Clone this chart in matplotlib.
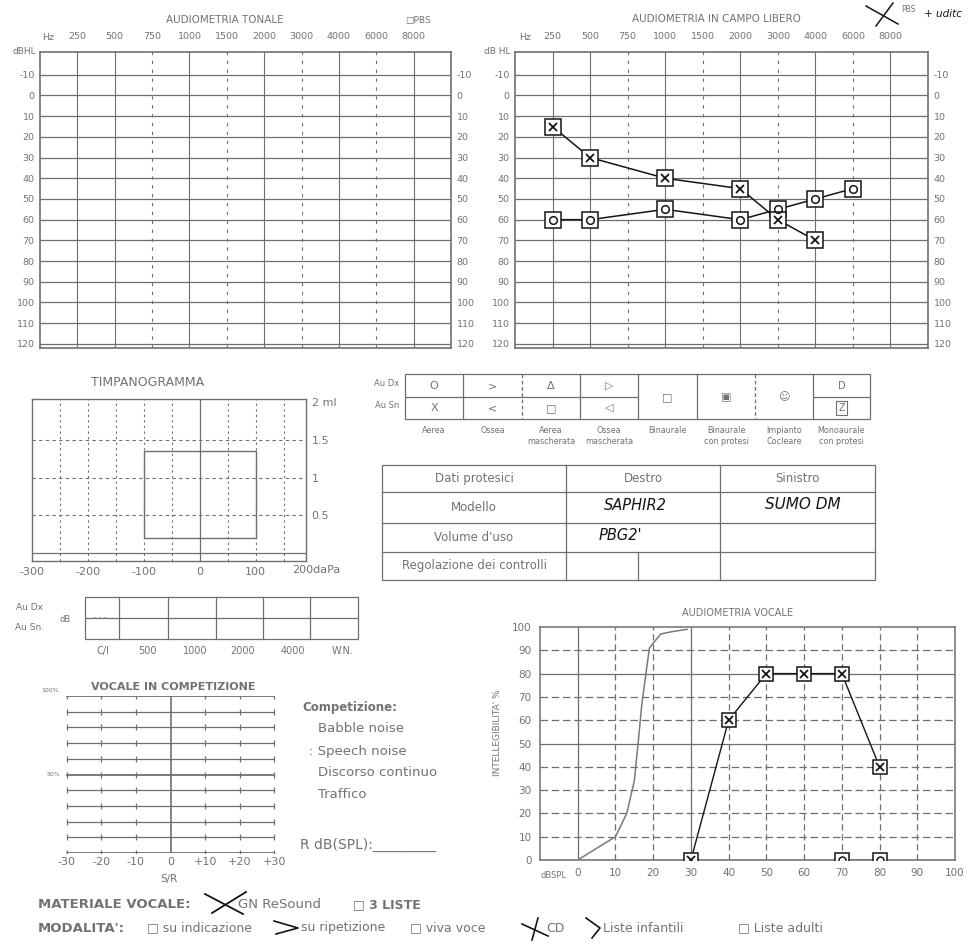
import matplotlib.pyplot as plt
from matplotlib.patches import Rectangle

W, H = 973, 944
FORM = "#6f6f6f"
TXT = "#727272"
INK = "#151515"

# --- data ---------------------------------------------------------------
freq_labels = ["250", "500", "750", "1000", "1500", "2000", "3000", "4000", "6000", "8000"]
freq_dashed = ["750", "1500", "3000", "6000"]
db_levels = [-10, 0, 10, 20, 30, 40, 50, 60, 70, 80, 90, 100, 110, 120]

# audiometria in campo libero
cl_x_freq = ["250", "500", "1000", "2000", "3000", "4000"]
cl_x_db = [15, 30, 40, 45, 60, 70]
cl_o_freq = ["250", "500", "1000", "2000", "3000", "4000", "6000"]
cl_o_db = [60, 60, 55, 60, 55, 50, 45]

# timpanogramma
tymp_pressure = [-300, -200, -100, 0, 100]
tymp_grid = [-250, -200, -150, -100, -50, 50, 100, 150]
tymp_ml = [0.5, 1, 1.5, 2]
tymp_ml_labels = ["0.5", "1", "1.5", "2 ml"]
tymp_norm_pressure = [-100, 100]
tymp_norm_ml = [0.2, 1.35]

# simboli
sym_top = ["O", ">", "\u0394", "\u25b7"]
sym_bottom = ["X", "<", "\u25a1", "\u25c1"]
sym_span = ["\u25a1", "\u25a3", "\u263a"]
sym_names = ["Aerea", "Ossea", "Aerea\nmascherata", "Ossea\nmascherata", "Binaurale",
             "Binaurale\ncon protesi", "Impianto\nCocleare", "Monoaurale\ncon protesi"]

# dati protesici
prot_rows = ["Dati protesici", "Modello", "Volume d'uso", "Regolazione dei controlli"]
prot_head = ["Destro", "Sinistro"]
prot_dx = ["SAPHIR2", "PBG2'"]
prot_sn = ["SUMO DM"]

# riflessi
reflex_labels = ["C/I", "500", "1000", "2000", "4000", "W.N."]

# vocale in competizione
sr_ticks = [-30, -20, -10, 0, 10, 20, 30]
sr_labels = ["-30", "-20", "-10", "0", "+10", "+20", "+30"]
sr_levels = [0, 10, 20, 30, 40, 50, 60, 70, 80, 90, 100]
competizione = ["Babble noise", ": Speech noise", "Discorso continuo", "Traffico"]

# audiometria vocale
voc_db_ticks = [0, 10, 20, 30, 40, 50, 60, 70, 80, 90, 100]
voc_pct_ticks = [0, 10, 20, 30, 40, 50, 60, 70, 80, 90, 100]
voc_solid_db = [0, 30]
voc_solid_pct = [50, 80]
norm_db = [0, 10, 13, 15, 16, 17, 19, 22, 25, 29]
norm_pct = [0, 10, 20, 34, 50, 67, 91, 97, 98, 99]
voc_x_db = [30, 40, 50, 60, 70, 80]
voc_x_pct = [0, 60, 80, 80, 80, 40]
voc_o_db = [70, 80]
voc_o_pct = [0, 0]

plt.rcParams["font.family"] = ["DejaVu Sans"]
plt.rcParams["axes.unicode_minus"] = False
fig = plt.figure(figsize=(W / 100, H / 100), dpi=100)
fig.patch.set_facecolor("white")


def px_axes(x0, y0, x1, y1):
    return fig.add_axes([x0 / W, 1 - y1 / H, (x1 - x0) / W, (y1 - y0) / H])


def frame(ax, lw=1.0):
    for s in ax.spines.values():
        s.set_color(FORM)
        s.set_linewidth(lw)


def boxed(ax, x, y, inner, ms=11):
    ax.plot(x, y, ls="none", marker="s", ms=ms, mfc="white", mec=INK, mew=1.1, zorder=4)
    if inner == "x":
        ax.plot(x, y, ls="none", marker="x", ms=ms * 0.55, mec=INK, mew=1.3, zorder=5)
    else:
        ax.plot(x, y, ls="none", marker="o", ms=ms * 0.5, mfc="none", mec=INK, mew=1.1, zorder=5)


def audiogram(x0, x1):
    ax = px_axes(x0, 52, x1, 348)
    ax.set_xlim(-1, 10)
    ax.set_ylim(122, -21)
    for i, f in enumerate(freq_labels):
        ax.axvline(i, color=FORM, lw=0.8, ls=(0, (3, 5)) if f in freq_dashed else "-")
    for d in db_levels:
        ax.axhline(d, color=FORM, lw=0.9)
    ax.set_xticks(range(len(freq_labels)))
    ax.set_xticklabels(freq_labels)
    ax.xaxis.tick_top()
    ax.set_yticks(db_levels)
    ax.tick_params(axis="y", length=0, labelsize=6.8, labelcolor=TXT,
                   labelleft=True, labelright=True, pad=4)
    ax.tick_params(axis="x", length=0, labelsize=6.8, labelcolor=TXT, pad=8)
    frame(ax, 1.2)
    return ax


# --- audiometria tonale -------------------------------------------------
audiogram(40, 451)

# --- audiometria in campo libero ----------------------------------------
ax = audiogram(515, 928)
xi = [freq_labels.index(f) for f in cl_x_freq]
oi = [freq_labels.index(f) for f in cl_o_freq]
ax.plot(xi, cl_x_db, color=INK, lw=1.1, zorder=3)
ax.plot(oi, cl_o_db, color=INK, lw=1.1, zorder=3)
boxed(ax, oi, cl_o_db, "o")
boxed(ax, xi, cl_x_db, "x")

# --- timpanogramma ------------------------------------------------------
ax = px_axes(32, 399, 306, 561)
ax.set_xlim(-300, 190)
ax.set_ylim(-0.106, 2.04)
for p in tymp_grid:
    ax.axvline(p, color=FORM, lw=0.8, ls=(0, (2, 3)))
ax.axvline(0, color=FORM, lw=0.9)
for m in tymp_ml[:-1]:
    ax.axhline(m, color=FORM, lw=0.8, ls=(0, (3, 3)))
ax.axhline(0, color=FORM, lw=0.9)
ax.add_patch(Rectangle((tymp_norm_pressure[0], tymp_norm_ml[0]),
                       tymp_norm_pressure[1] - tymp_norm_pressure[0],
                       tymp_norm_ml[1] - tymp_norm_ml[0],
                       fill=False, ec=FORM, lw=1.0))
ax.set_xticks(tymp_pressure)
ax.set_yticks(tymp_ml)
ax.set_yticklabels(tymp_ml_labels)
ax.yaxis.tick_right()
ax.tick_params(length=0, labelsize=8, labelcolor=TXT, pad=4)
ax.text(165, -0.16, "200daPa", ha="left", va="top", fontsize=8, color=TXT,
        transform=ax.transData, clip_on=False)
frame(ax, 1.0)

# --- vocale in competizione ---------------------------------------------
ax = px_axes(65, 696, 276, 853)
ax.set_xlim(-30.5, 30.5)
ax.set_ylim(0, 100)
ticks_no0 = [t for t in sr_ticks if t != 0]
for lv in sr_levels:
    ax.plot([sr_ticks[0], sr_ticks[-1]], [lv, lv], color=FORM,
            lw=1.3 if lv in (0, 50, 100) else 0.9)
    ax.plot(ticks_no0, [lv] * len(ticks_no0), ls="none", marker="|", ms=5,
            mec=FORM, mew=0.9)
ax.axvline(0, color=FORM, lw=1.2)
ax.set_xticks(sr_ticks)
ax.set_xticklabels(sr_labels)
ax.set_yticks([])
ax.tick_params(length=0, labelsize=8, labelcolor=TXT, pad=3)
for s in ax.spines.values():
    s.set_visible(False)

# --- audiometria vocale -------------------------------------------------
ax = px_axes(540, 627, 955, 860)
ax.set_xlim(-10, 100)
ax.set_ylim(0, 100)
for d in voc_db_ticks[:-1]:
    ax.axvline(d, color=FORM, lw=0.9, ls="-" if d in voc_solid_db else (0, (5, 3)))
for p in voc_pct_ticks[1:-1]:
    ax.axhline(p, color=FORM, lw=0.9, ls="-" if p in voc_solid_pct else (0, (6, 3)))
ax.axhline(0, color=FORM, lw=1.0)
ax.plot(norm_db, norm_pct, color="#7a7a7a", lw=1.1, zorder=3)
ax.plot(voc_x_db, voc_x_pct, color=INK, lw=1.0, zorder=3)
ax.plot(voc_o_db, voc_o_pct, color=INK, lw=1.0, zorder=3)
boxed(ax, voc_o_db, voc_o_pct, "o", ms=10)
boxed(ax, voc_x_db, voc_x_pct, "x", ms=10)
ax.set_xticks(voc_db_ticks)
ax.set_yticks(voc_pct_ticks)
ax.tick_params(length=0, labelsize=7.5, labelcolor=TXT, pad=6)
frame(ax, 1.1)

# --- overlay: titles, tables, form text ---------------------------------
ov = fig.add_axes([0, 0, 1, 1])
ov.set_xlim(0, W)
ov.set_ylim(H, 0)
ov.axis("off")
ov.patch.set_visible(False)


def t(x, y, s, size=7, ha="center", color=TXT, **kw):
    ov.text(x, y, s, fontsize=size, ha=ha, va="center", color=color, **kw)


def ln(xs, ys, color=FORM, lw=0.9, **kw):
    ov.plot(xs, ys, color=color, lw=lw, **kw)


t(225, 20, "AUDIOMETRIA TONALE", 7.5)
t(418, 20, "\u25a1PBS", 6.5)
t(48, 37, "Hz", 6.8)
t(36, 52, "dBHL", 6.5, ha="right")
t(716, 19, "AUDIOMETRIA IN CAMPO LIBERO", 7.5)
t(525, 37, "Hz", 6.8)
t(511, 52, "dB HL", 6.5, ha="right")
# handwritten note top right
ln([866, 898], [6, 24], color=INK, lw=1.1)
ln([893, 876], [3, 26], color=INK, lw=1.1)
t(908, 10, "PBS", 5.5)
t(924, 14, "+ uditc", 7.5, ha="left", color=INK, style="italic")

# timpanogramma title
t(148, 383, "TIMPANOGRAMMA", 9)

# symbols table
cols = [405, 463, 522, 580, 638, 697, 755, 813, 870]
ov.add_patch(Rectangle((cols[0], 374), cols[-1] - cols[0], 45, fill=False, ec=FORM, lw=0.9))
for c in cols[1:-1]:
    ln([c, c], [374, 419], ls=(0, (3, 2)) if c in (522, 755) else "-")
ln([cols[0], cols[4]], [397, 397])
ln([cols[7], cols[8]], [397, 397])
t(387, 384, "Au Dx", 6)
t(387, 405, "Au Sn", 6)
for i, s in enumerate(sym_top):
    t((cols[i] + cols[i + 1]) / 2, 386, s, 8)
for i, s in enumerate(sym_bottom):
    t((cols[i] + cols[i + 1]) / 2, 408, s, 8)
for i, s in enumerate(sym_span):
    t((cols[i + 4] + cols[i + 5]) / 2, 397, s, 8)
t((cols[7] + cols[8]) / 2, 386, "D", 7)
t((cols[7] + cols[8]) / 2, 408, "Z", 7,
  bbox=dict(boxstyle="square,pad=0.25", fc="none", ec=FORM, lw=0.8))
for i, s in enumerate(sym_names):
    ov.text((cols[i] + cols[i + 1]) / 2, 426, s, fontsize=5.8, color=TXT,
            ha="center", va="top", linespacing=1.3)

# dati protesici table
pc = [382, 566, 720, 875]
pr = [465, 492, 523, 552, 580]
ov.add_patch(Rectangle((pc[0], pr[0]), pc[-1] - pc[0], pr[-1] - pr[0], fill=False, ec=FORM, lw=0.9))
for y in pr[1:-1]:
    ln([pc[0], pc[-1]], [y, y])
for x in pc[1:-1]:
    ln([x, x], [pr[0], pr[-1]])
ln([638, 638], [pr[3], pr[4]])
for i, s in enumerate(prot_rows):
    t((pc[0] + pc[1]) / 2, (pr[i] + pr[i + 1]) / 2, s, 8.5)
for i, s in enumerate(prot_head):
    t((pc[i + 1] + pc[i + 2]) / 2, (pr[0] + pr[1]) / 2, s, 8.5)
for i, s in enumerate(prot_dx):
    t((pc[1] + pc[2]) / 2 - 8 - 15 * i, (pr[i + 1] + pr[i + 2]) / 2 - 2, s, 10.5,
      color=INK, style="italic")
for i, s in enumerate(prot_sn):
    t((pc[2] + pc[3]) / 2 + 5, (pr[i + 1] + pr[i + 2]) / 2 - 3, s, 11,
      color=INK, style="italic")

# reflex table
rc = [85, 119, 168, 216, 263, 310, 358]
ov.add_patch(Rectangle((rc[0], 597), rc[-1] - rc[0], 42, fill=False, ec=FORM, lw=0.9))
ln([rc[0], rc[-1]], [618, 618])
for x in rc[1:-1]:
    ln([x, x], [597, 639])
t(30, 608, "Au Dx", 6.5)
t(30, 628, "Au Sn.", 6.5)
t(65, 619, "dB", 6)
t(100, 617, "- - -", 5)
for x, s in zip([103, 147, 195, 243, 293, 343], reflex_labels):
    t(x, 651, s, 7)

# vocale in competizione labels
t(173, 687, "VOCALE IN COMPETIZIONE", 8, fontweight="bold")
t(50, 690, "100%", 4.5)
t(53, 774, "50%", 4.5)
t(169, 879, "S/R", 7.5)
t(302, 708, "Competizione:", 8.5, ha="left", fontweight="bold")
for i, s in enumerate(competizione):
    t(318 if i != 1 else 309, 729 + 22 * i, s, 9.5, ha="left")
t(300, 845, "R dB(SPL):_________", 10, ha="left")

# audiometria vocale labels
t(738, 613, "AUDIOMETRIA VOCALE", 7)
t(567, 875, "dBSPL", 6, ha="right")
t(497, 733, "INTELLEGIBILITA' %", 6.5, rotation=90)

# material / modality rows
t(38, 905, "MATERIALE VOCALE:", 9.5, ha="left", fontweight="bold")
ln([205, 243], [894, 914], color=INK, lw=1.3)
ln([212, 246], [913, 892], color=INK, lw=1.3)
t(238, 905, "GN ReSound", 9.5, ha="left")
t(353, 905, "\u25a1 3 LISTE", 9, ha="left", fontweight="bold")

t(38, 928, "MODALITA':", 9.5, ha="left", fontweight="bold")
t(147, 928, "\u25a1 su indicazione", 9, ha="left")
ln([274, 298, 276], [921, 928, 934], color=INK, lw=1.2)
t(301, 928, "su ripetizione", 9, ha="left")
t(410, 928, "\u25a1 viva voce", 9, ha="left")
ln([522, 548], [924, 936], color=INK, lw=1.2)
ln([538, 532], [918, 940], color=INK, lw=1.2)
t(546, 928, "CD", 9, ha="left")
ln([586, 600, 592], [918, 928, 938], color=INK, lw=1.2)
t(603, 928, "Liste infantili", 9, ha="left")
t(738, 928, "\u25a1 Liste adulti", 9, ha="left")

fig.savefig("out.png", dpi=100, facecolor="white")
